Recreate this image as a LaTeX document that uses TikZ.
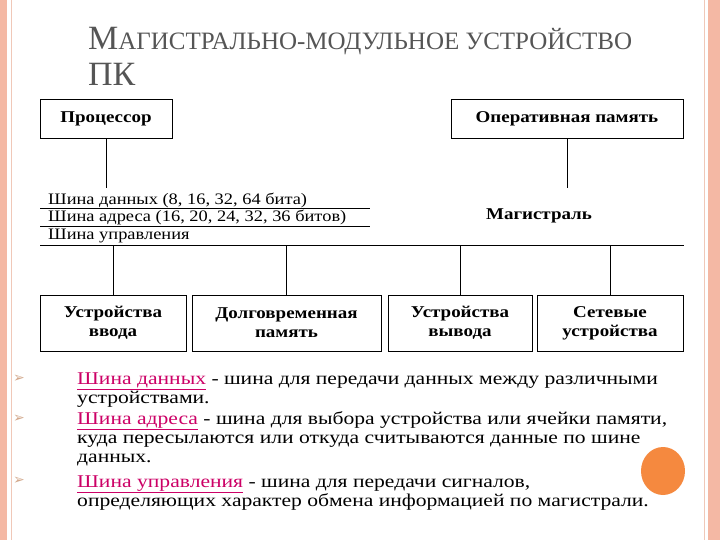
\documentclass[tikz,border=0pt]{standalone}
\usepackage{fontspec}
\setmainfont{Liberation Serif}
\newfontfamily\dvs{DejaVu Sans}
\newfontfamily\wide[FakeStretch=1.15]{Liberation Serif}
\newfontfamily\wider[FakeStretch=1.2]{Liberation Serif}
\definecolor{pinkbar}{HTML}{F4B8A4}
\definecolor{pinkline}{HTML}{F0C8B8}
\definecolor{linkc}{HTML}{CC0066}
\definecolor{orng}{HTML}{F5893F}
\definecolor{ttl}{HTML}{555555}
\tikzset{
  box/.style={draw, line width=0.8pt, font=\wide\bfseries\fontsize{16.5}{19}\selectfont, align=center, inner sep=0pt},
  bustext/.style={anchor=base west, font=\wide\fontsize{16}{17}\selectfont, inner sep=0pt},
  bl/.style={line width=0.8pt},
  txt/.style={anchor=base west, font=\wider\fontsize{18}{19}\selectfont, inner sep=0pt},
  bul/.style={font=\dvs\fontsize{14}{14}\selectfont, text=orng!55!gray!70!white, inner sep=0pt}
}
\newcommand\lnk[1]{\textcolor{linkc}{\underline{#1}}}
\begin{document}
\begin{tikzpicture}[x=1pt,y=-1pt]
\useasboundingbox (0,0) rectangle (720,540);
\fill[white] (0,0) rectangle (720,540);
\fill[pinkbar] (0,0) rectangle (7,540);
\fill[pinkbar] (708,0) rectangle (720,540);
\draw[pinkline, line width=1pt] (11,0) -- (11,540);
\draw[pinkline, line width=1pt] (704,0) -- (704,540);
% title
\node[anchor=base west, text=ttl, inner sep=0pt] (t1) at (88,50) {\fontsize{34}{36}\selectfont М\fontsize{25}{27}\selectfont АГИСТРАЛЬНО-МОДУЛЬНОЕ УСТРОЙСТВО};
\node[anchor=base west, text=ttl, inner sep=0pt] (t2) at (88,86) {\fontsize{34}{36}\selectfont ПК};
% top boxes
\node[box, minimum width=132pt, minimum height=39pt] (proc) at (106,118.5) {Процессор};
\node[box, minimum width=232pt, minimum height=39pt] (ram) at (567,118.5) {Оперативная память};
\coordinate (pb) at (106,188);
\coordinate (rb) at (567,188);
\draw[bl] (proc.south) -- (pb);
\draw[bl] (ram.south) -- (rb);
% bus
\node[bustext] (b1) at (48,205) {Шина данных (8, 16, 32, 64 бита)};
\node[bustext] (b2) at (48,222) {Шина адреса (16, 20, 24, 32, 36 битов)};
\node[bustext] (b3) at (48,240) {Шина управления};
\coordinate (l1a) at (40,208); \coordinate (l1b) at (370,208);
\coordinate (l2a) at (40,226); \coordinate (l2b) at (370,226);
\coordinate (l3a) at (40,245); \coordinate (l3b) at (684,245);
\draw[bl] (l1a) -- (l1b);
\draw[bl] (l2a) -- (l2b);
\draw[bl] (l3a) -- (l3b);
\node[font=\wide\bfseries\fontsize{16.5}{19}\selectfont] (mag) at (539,216) {Магистраль};
% bottom boxes
\node[box, minimum width=146pt, minimum height=56pt] (in) at (113,323) {Устройства\\ввода};
\node[box, minimum width=189pt, minimum height=56pt] (lt) at (286.5,323) {Долговременная\\память};
\node[box, minimum width=144pt, minimum height=56pt] (out) at (460,323) {Устройства\\вывода};
\node[box, minimum width=146pt, minimum height=56pt] (net) at (610,323) {Сетевые\\устройства};
\coordinate (d1) at (113,245); \coordinate (d2) at (286.5,245);
\coordinate (d3) at (460,245); \coordinate (d4) at (610,245);
\draw[bl] (d1) -- (in.north);
\draw[bl] (d2) -- (lt.north);
\draw[bl] (d3) -- (out.north);
\draw[bl] (d4) -- (net.north);
% bullets
\node[bul] (k1) at (19,379) {➢};
\node[bul] (k2) at (19,419) {➢};
\node[bul] (k3) at (19,481) {➢};
\node[txt] (p1) at (77,384) {\lnk{Шина данных} - шина для передачи данных между различными};
\node[txt] (p1b) at (77,403) {устройствами.};
\node[txt] (p2) at (77,424) {\lnk{Шина адреса} - шина для выбора устройства или ячейки памяти,};
\node[txt] (p2b) at (77,443) {куда пересылаются или откуда считываются данные по шине};
\node[txt] (p2c) at (77,462) {данных.};
\node[txt] (p3) at (77,487) {\lnk{Шина управления} - шина для передачи сигналов,};
\node[txt] (p3b) at (77,506) {определяющих характер обмена информацией по магистрали.};
\fill[orng] (663,471) ellipse (22pt and 24pt);
\end{tikzpicture}
\end{document}
